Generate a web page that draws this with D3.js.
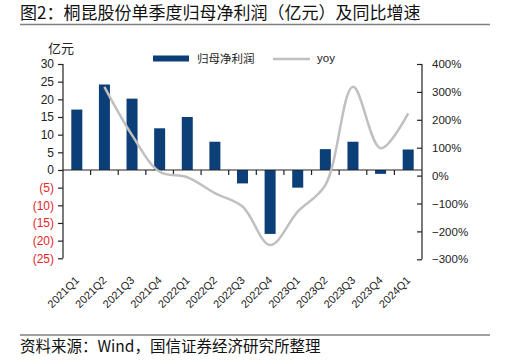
<!DOCTYPE html>
<html>
<head>
<meta charset="utf-8">
<script src="https://cdn.jsdelivr.net/npm/d3@7"></script>
<style>
  body { margin: 0; background: #fff; }
  svg text { font-family: "Liberation Sans", Arial, sans-serif; }
  .cjk { font-family: "Noto Sans CJK SC", sans-serif; }
</style>
</head>
<body>
<svg id="chart" width="510" height="361"></svg>
<script>
let quarters = ['2021Q1', '2021Q2', '2021Q3', '2021Q4', '2022Q1', '2022Q2', '2022Q3',
	'2022Q4', '2023Q1', '2023Q2', '2023Q3', '2023Q4', '2024Q1'];
let profit = [17.1, 24.2, 20.2, 11.8, 15.0, 8.0, -3.8, -18.1, -5.0, 5.9, 8.0, -1.1, 5.8];
let yoy = [null, 318, 145, 14, -6, -63, -111, -249, -129, -34, 318, 98, 223];
let leftTicks = [30, 25, 20, 15, 10, 5, 0, -5, -10, -15, -20, -25];
let rightTicks = [400, 300, 200, 100, 0, -100, -200, -300];

let svg = d3.select('#chart');
let left = 63, right = 422;
let barColor = '#0c3e78', lineColor = '#c0c0c0', red = '#e3262b';

// title and rules
svg.append('text')
	.attr('class', 'cjk')
	.attr('x', 20).attr('y', 19)
	.style('font-size', '17px')
	.attr('fill', '#111')
	.text('图2：桐昆股份单季度归母净利润（亿元）及同比增速');
svg.append('line').attr('x1', 20).attr('x2', 490).attr('y1', 24.5).attr('y2', 24.5)
	.attr('stroke', '#7f7f7f').attr('stroke-width', 1.5);
svg.append('line').attr('x1', 20).attr('x2', 490).attr('y1', 335).attr('y2', 335)
	.attr('stroke', '#7f7f7f').attr('stroke-width', 1.5);
svg.append('text')
	.attr('class', 'cjk')
	.attr('x', 20).attr('y', 352)
	.style('font-size', '15.5px')
	.attr('fill', '#111')
	.text('资料来源：Wind，国信证券经济研究所整理');

let yL = d3.scaleLinear().domain([-25, 30]).range([258.3, 64]);
let yR = d3.scaleLinear().domain([-300, 400]).range([259.3, 64]);
let step = (right - left) / quarters.length;
let cx = d => left + step * (quarters.indexOf(d) + 0.5);

// bars
svg.selectAll('.bar')
	.data(quarters)
	.enter()
	.append('rect')
	.attr('class', 'bar')
	.attr('x', d => cx(d) - 5.5)
	.attr('width', 11)
	.attr('y', (d, i) => yL(Math.max(0, profit[i])))
	.attr('height', (d, i) => Math.abs(yL(profit[i]) - yL(0)))
	.attr('fill', barColor);

// zero line with category ticks
svg.append('line').attr('x1', left).attr('x2', right).attr('y1', yL(0)).attr('y2', yL(0))
	.attr('stroke', '#222').attr('stroke-width', 1.2);
svg.selectAll('.ctick')
	.data(d3.range(1, quarters.length))
	.enter()
	.append('line')
	.attr('x1', i => left + step * i).attr('x2', i => left + step * i)
	.attr('y1', yL(0)).attr('y2', yL(0) + 5)
	.attr('stroke', '#222').attr('stroke-width', 1.2);

// category labels
svg.selectAll('.clabel')
	.data(quarters)
	.enter()
	.append('text')
	.attr('transform', d => `translate(${cx(d) + 3},${281}) rotate(-45)`)
	.attr('text-anchor', 'end')
	.style('font-size', '11px')
	.attr('fill', '#222')
	.text(d => d);

// yoy line
let line = d3.line()
	.defined(d => d !== null)
	.x((d, i) => cx(quarters[i]))
	.y(d => yR(d))
	.curve(d3.curveCatmullRom.alpha(0.5));
svg.append('path')
	.datum(yoy)
	.attr('d', line)
	.attr('fill', 'none')
	.attr('stroke', lineColor)
	.attr('stroke-width', 2.5);

// left axis
let axL = svg.append('g')
	.attr('transform', `translate(${left},0)`)
	.call(d3.axisLeft(yL).tickValues(leftTicks).tickSize(5).tickPadding(4)
		.tickFormat(d => d < 0 ? '(' + Math.abs(d) + ')' : d));
axL.select('.domain').attr('d', `M-0,${yL(30)}V${yL(-25)}`).attr('stroke', '#222').attr('stroke-width', 1.2);
axL.selectAll('line').attr('stroke', '#222').attr('stroke-width', 1.2);
axL.selectAll('text')
	.style('font-size', '12px')
	.style('font-family', '"Liberation Sans", Arial, sans-serif')
	.attr('fill', d => d < 0 ? red : '#222');

// right axis (ticks point inward)
let axR = svg.append('g')
	.attr('transform', `translate(${right},0)`)
	.call(d3.axisRight(yR).tickValues(rightTicks).tickSize(0).tickPadding(10)
		.tickFormat(d => (d < 0 ? '\u2212' + Math.abs(d) : d) + '%'));
axR.select('.domain').attr('d', `M0,${yR(400)}V${yR(-300)}`).attr('stroke', '#222').attr('stroke-width', 1.2);
axR.selectAll('.tick').append('line').attr('x1', -5).attr('x2', 0).attr('stroke', '#222').attr('stroke-width', 1.2);
axR.selectAll('text')
	.style('font-size', '11.5px')
	.style('font-family', '"Liberation Sans", Arial, sans-serif')
	.attr('fill', '#222');

// unit label
svg.append('text')
	.attr('class', 'cjk')
	.attr('x', 61).attr('y', 53)
	.attr('text-anchor', 'middle')
	.style('font-size', '13px')
	.attr('fill', '#222')
	.text('亿元');

// legend
let lg = svg.append('g');
lg.append('rect').attr('x', 153).attr('y', 55.5).attr('width', 36).attr('height', 6).attr('fill', barColor);
lg.append('text').attr('class', 'cjk').attr('x', 197).attr('y', 63)
	.style('font-size', '11.5px').attr('fill', '#222').text('归母净利润');
lg.append('line').attr('x1', 273).attr('x2', 310).attr('y1', 59).attr('y2', 59)
	.attr('stroke', lineColor).attr('stroke-width', 2.5);
lg.append('text').attr('x', 317).attr('y', 62)
	.style('font-size', '11.5px').attr('fill', '#222').text('yoy');
</script>
</body>
</html>
